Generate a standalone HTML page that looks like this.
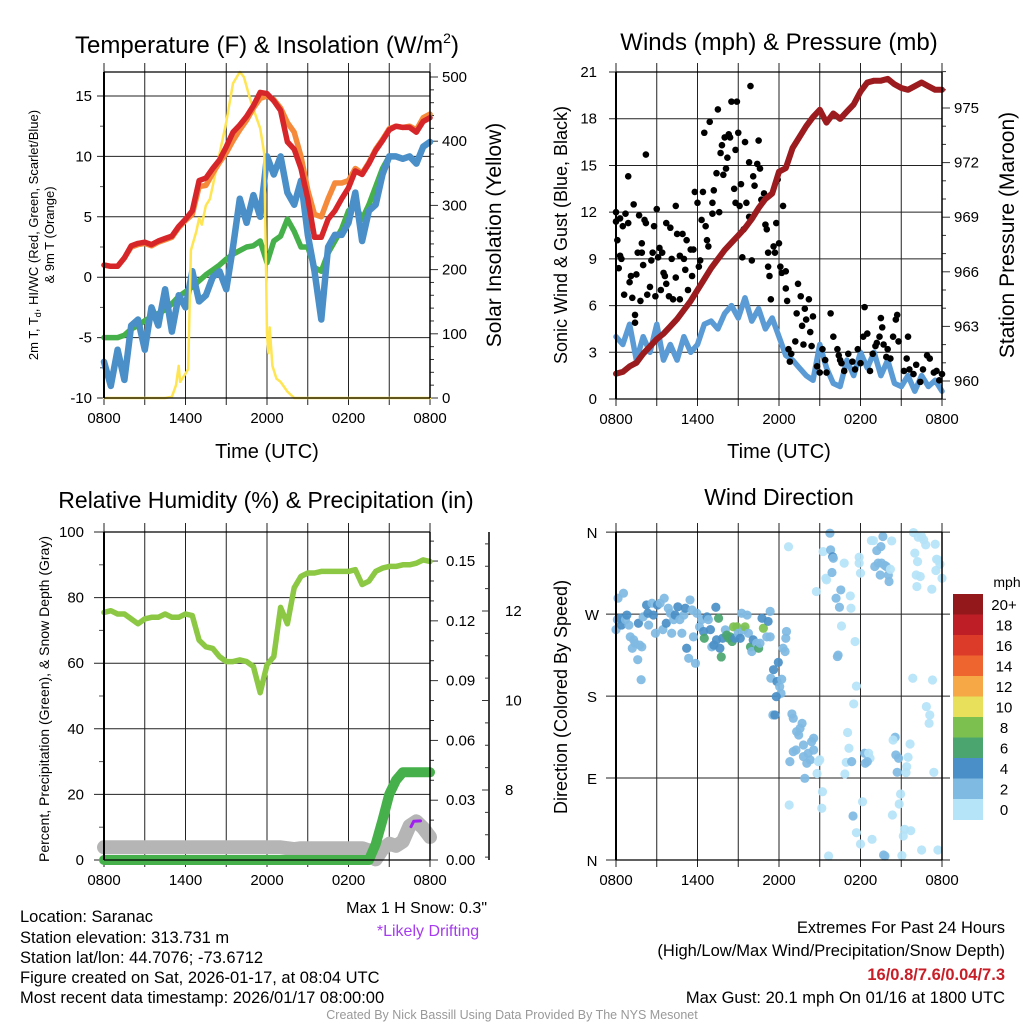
<!DOCTYPE html>
<html><head><meta charset="utf-8"><style>
html,body{margin:0;padding:0;background:#fff}
svg{display:block}
text{font-family:"Liberation Sans",sans-serif;fill:#000}
</style></head><body>
<svg id="chart" width="1024" height="1024" viewBox="0 0 1024 1024" xmlns="http://www.w3.org/2000/svg">
<text x="267" y="53" font-size="24" text-anchor="middle">Temperature (F) &amp; Insolation (W/m<tspan font-size="14" dy="-10">2</tspan><tspan dy="10">)</tspan></text>
<text x="779" y="50" font-size="24" text-anchor="middle">Winds (mph) &amp; Pressure (mb)</text>
<text x="266" y="508" font-size="23" text-anchor="middle">Relative Humidity (%) &amp; Precipitation (in)</text>
<text x="779" y="505" font-size="23" text-anchor="middle">Wind Direction</text>
<text x="267" y="458" font-size="20" text-anchor="middle">Time (UTC)</text>
<text x="779" y="458" font-size="20" text-anchor="middle">Time (UTC)</text>
<text transform="translate(38,235) rotate(-90)" font-size="13" text-anchor="middle">2m T, T<tspan font-size="9" dy="3">d</tspan><tspan dy="-3">, HI/WC (Red, Green, Scarlet/Blue)</tspan></text>
<text transform="translate(54,235) rotate(-90)" font-size="13" text-anchor="middle">&amp; 9m T (Orange)</text>
<text transform="translate(501,235) rotate(-90)" font-size="21" text-anchor="middle">Solar Insolation (Yellow)</text>
<text transform="translate(567,235) rotate(-90)" font-size="18" text-anchor="middle">Sonic Wind &amp; Gust (Blue, Black)</text>
<text transform="translate(1014,235) rotate(-90)" font-size="21" text-anchor="middle">Station Pressure (Maroon)</text>
<text transform="translate(49,699) rotate(-90)" font-size="14" text-anchor="middle">Percent, Precipitation (Green), &amp; Snow Depth (Gray)</text>
<text transform="translate(567,697) rotate(-90)" font-size="18" text-anchor="middle">Direction (Colored By Speed)</text>
<text x="487" y="913" font-size="16" text-anchor="end" fill="#333">Max 1 H Snow: 0.3"</text>
<text x="428" y="936" font-size="16" text-anchor="middle" style="fill:#a63bf0">*Likely Drifting</text>
<g font-size="16.5">
<text x="20" y="922">Location: Saranac</text>
<text x="20" y="943">Station elevation: 313.731 m</text>
<text x="20" y="963">Station lat/lon: 44.7076; -73.6712</text>
<text x="20" y="983">Figure created on Sat, 2026-01-17, at 08:04 UTC</text>
<text x="20" y="1003">Most recent data timestamp: 2026/01/17 08:00:00</text>
</g>
<g font-size="16.5" text-anchor="end">
<text x="1005" y="933">Extremes For Past 24 Hours</text>
<text x="1005" y="956">(High/Low/Max Wind/Precipitation/Snow Depth)</text>
<text x="1005" y="980" font-weight="bold" style="fill:#c81e28">16/0.8/7.6/0.04/7.3</text>
<text x="1005" y="1003">Max Gust: 20.1 mph On 01/16 at 1800 UTC</text>
</g>
<text x="512" y="1019" font-size="12.5" text-anchor="middle" style="fill:#999">Created By Nick Bassill Using Data Provided By The NYS Mesonet</text>
</svg>
<script>
// ---------- data ----------
const hours = [0,0.5,1,1.5,2,2.5,3,3.5,4,4.5,5,5.5,6,6.5,7,7.5,8,8.5,9,9.5,10,10.5,11,11.5,12,12.5,13,13.5,14,14.5,15,15.5,16,16.5,17,17.5,18,18.5,19,19.5,20,20.5,21,21.5,22,22.5,23,23.5,24];
const timeTickLabels = ["0800","1400","2000","0200","0800"];
const tempRed = [1.0,0.9,0.9,1.6,2.6,2.8,2.9,2.7,3.0,3.2,3.4,4.2,4.8,5.5,8.0,8.2,9.0,9.7,10.8,12.0,12.6,13.3,14.2,15.3,15.2,14.6,13.8,11.2,10.6,9.0,6.5,3.3,3.3,4.8,5.5,6.5,7.4,8.8,8.5,9.4,10.5,11.3,12.2,12.5,12.4,12.4,12.0,12.9,13.2];
const temp9m = [1.0,0.9,0.9,1.6,2.5,2.7,2.8,2.6,2.9,3.1,3.3,4.1,4.7,5.2,7.5,7.6,8.6,9.5,10.3,11.3,12.2,13.0,14.0,14.8,15.0,14.7,14.0,12.8,12.0,10.0,7.2,5.2,5.0,6.5,7.8,7.8,8.0,9.0,8.6,9.5,10.6,11.4,12.3,12.5,12.4,12.5,12.2,13.2,13.5];
const dewGreen = [-5,-5,-5,-4.8,-4.3,-4.0,-3.6,-3.3,-3.0,-2.7,-2.2,-1.6,-1.2,-0.8,-0.3,0.2,0.6,1.0,1.5,1.9,2.2,2.5,2.6,3.0,1.2,3.0,3.4,4.8,3.8,2.5,2.5,0.8,0.5,2.0,3.0,4.0,5.5,6.0,4.8,6.0,7.5,9.0,10.0,10.0,9.8,10.0,9.4,10.8,11.2];
const windChillBlue = [-7,-9,-6,-8.5,-4,-3.5,-6,-2.5,-4,-1,-4.5,-1.5,-2.5,0.5,-2,-1.5,0.0,0.5,-1,2.5,6.5,4.5,6.8,5.0,10.0,8.5,10.0,7.0,6.0,8.0,3.5,0.5,-3.5,2.5,3.5,3.5,4.5,7.0,3.0,5.5,6.0,8.5,10.0,10.0,9.8,10.0,9.4,10.8,11.2];
const solarHours = [0,4.5,5,5.3,5.5,5.6,6,6.2,6.4,6.8,7,7.2,7.5,7.8,8,8.5,9,9.5,10,10.3,10.7,11,11.5,11.8,12,12.1,12.2,12.4,12.7,13,13.5,14,24];
const solarValues = [0,0,2,20,50,25,38,45,230,260,280,270,300,310,330,380,430,490,515,500,470,450,420,380,100,70,110,50,30,25,10,0,0];
const pressure = [960.4,960.5,960.8,961.0,961.5,961.9,962.3,962.6,963.0,963.4,963.9,964.4,965.0,965.6,966.2,966.7,967.2,967.6,968.0,968.4,968.9,969.5,970.0,970.3,971.5,971.7,972.8,973.4,974.0,974.5,974.9,974.2,974.7,974.4,974.8,975.2,975.9,976.4,976.5,976.5,976.6,976.3,976.1,976.0,976.2,976.4,976.2,976.0,976.0];
const windSpeed = [4,3.5,4.8,2.5,4,3,4.8,2.5,3.5,2.5,4.0,3.0,3.5,4.8,5.0,4.5,5.5,6.0,5.2,6.5,5.0,5.8,4.5,5.2,4.0,2.8,2.5,2.0,1.5,1.2,3.5,2.0,1.0,0.8,2.5,1.5,3.0,2.0,3.0,1.5,2.5,1.0,0.8,1.5,0.5,1.5,0.8,1.2,0.5];
const gustHours = [0,0,0.1,0.2,0.3,0.3,0.4,0.5,0.6,0.7,0.9,0.9,1.0,1.1,1.2,1.3,1.4,1.4,1.5,1.6,1.7,1.8,1.9,1.9,2.0,2.1,2.2,2.2,2.3,2.5,2.6,2.7,2.8,2.9,3.0,3.1,3.2,3.3,3.4,3.5,3.6,3.7,3.7,3.9,4.0,4.1,4.2,4.4,4.4,4.5,4.7,4.7,4.9,5.0,5.1,5.2,5.3,5.5,5.6,5.7,5.8,6.0,6.1,6.2,6.3,6.4,6.5,6.6,6.7,6.8,6.9,7.1,7.1,7.2,7.4,7.5,7.6,7.7,7.8,7.9,8.0,8.1,8.2,8.3,8.4,8.5,8.7,8.8,8.8,8.9,9.0,9.1,9.2,9.3,9.4,9.5,9.6,9.8,9.8,9.9,10.0,10.1,10.2,10.4,10.5,10.6,10.7,10.9,11.0,11.1,11.2,11.2,11.3,11.4,11.6,11.7,11.8,11.9,12.0,12.1,12.2,12.3,12.5,12.5,12.6,12.7,12.8,12.9,13.2,13.3,13.4,13.6,13.7,13.8,13.9,14.0,14.2,14.3,14.4,14.5,14.8,15.0,15.2,15.4,15.5,15.8,16.0,16.3,16.4,16.5,16.6,16.8,17.1,17.4,17.6,17.8,18.0,18.2,18.3,18.5,18.7,18.9,19.1,19.2,19.4,19.5,19.6,19.7,19.9,20.0,20.2,20.4,20.6,20.7,20.8,21.2,21.4,21.5,21.6,21.9,22.1,22.4,22.6,22.9,23.1,23.4,23.6,23.8,24.0];
const gustValues = [12.0,11.4,10.2,8.4,9.2,11.6,9.0,11.1,6.7,11.9,11.3,14.3,7.5,7.9,6.5,12.5,4.9,5.4,8.0,9.4,11.8,6.3,10.0,9.4,8.6,11.5,15.7,11.3,6.7,7.2,8.9,9.4,11.1,6.6,12.2,9.1,9.7,7.0,9.4,8.1,7.9,11.3,7.4,6.6,11.0,9.0,6.4,7.8,12.4,10.6,9.2,6.4,10.6,9.0,8.3,10.2,7.0,9.6,7.9,9.6,13.3,12.6,8.5,8.9,11.5,13.3,17.1,11.1,10.2,9.8,17.8,12.6,11.9,13.4,14.5,18.6,12.0,15.8,16.3,14.4,16.8,14.8,15.5,17.0,16.8,19.1,13.5,12.6,16.0,19.1,17.1,12.4,13.8,9.1,10.9,16.5,12.6,11.7,15.2,20.1,8.9,14.3,13.7,15.1,16.6,14.8,12.8,13.2,11.2,10.9,8.5,9.4,7.9,6.4,9.8,9.4,11.3,14.1,10.0,8.5,8.1,12.4,8.2,7.1,6.3,3.2,2.4,2.9,3.7,5.5,7.4,6.6,4.7,3.5,5.8,5.1,6.4,4.3,3.4,5.3,2.1,1.7,3.2,2.5,1.7,5.5,4.0,3.2,2.8,2.5,2.3,1.8,2.9,2.4,1.9,3.2,2.3,4.0,5.9,4.2,1.8,2.9,3.4,3.6,4.0,5.2,4.6,3.5,2.7,3.2,2.6,4.0,5.1,5.4,3.7,1.8,2.6,4.0,1.9,1.6,2.2,1.1,1.9,2.8,2.6,1.7,1.8,1.2,1.6];
const rhValues = [75.5,76,75,75,73.5,72,73.5,74,74,75,74,74,75,74.5,67,65,64.5,62,60.5,60.5,61,60.5,59,51,59.5,62,77,72,83,86.5,87.5,87.5,88,88,88,88,88,88.5,84,85,88,89,89.5,89.5,90,90,90.5,91.5,91];
const precipValues = [0,0,0,0,0,0,0,0,0,0,0,0,0,0,0,0,0,0,0,0,0,0,0,0,0,0,0,0,0,0,0,0,0,0,0,0,0,0,0,0,0.008,0.02,0.033,0.040,0.044,0.044,0.044,0.044,0.044];
const snowDepth = [6.72,6.72,6.72,6.72,6.72,6.72,6.72,6.72,6.72,6.72,6.72,6.72,6.72,6.72,6.72,6.72,6.72,6.72,6.72,6.72,6.72,6.72,6.72,6.72,6.72,6.72,6.72,6.7,6.68,6.7,6.7,6.7,6.7,6.7,6.7,6.7,6.7,6.7,6.7,6.65,6.45,6.68,6.8,6.75,6.85,7.2,7.3,7.15,6.95];
const driftHours = [22.6,22.8,23.3];
const driftValues = [7.18,7.3,7.31];
const dirHours = [0,0.1,0.15,0.3,0.4,0.55,0.7,0.8,0.95,1.05,1.2,1.3,1.4,1.6,1.75,1.85,1.65,1.9,2.0,2.25,2.35,2.4,2.65,2.75,2.9,3.05,3.25,3.45,3.55,3.7,3.85,4.0,4.1,4.25,4.35,4.55,4.7,4.85,5.0,5.1,5.2,5.35,5.45,5.6,5.7,5.85,5.95,6.15,6.3,6.45,6.5,6.7,6.8,6.95,7.05,7.2,7.35,7.4,7.55,7.65,7.75,7.85,8.05,8.15,8.3,8.4,8.55,8.65,8.75,8.9,9.0,9.15,9.25,9.4,9.5,9.65,9.75,9.9,10.0,10.1,10.35,10.5,10.6,10.75,10.85,11.1,11.2,11.35,11.35,12.55,12.5,12.3,12.45,11.95,11.6,11.4,11.85,12.2,12.05,12.15,11.8,11.55,11.7,12.95,13.05,13.7,13.55,13.45,13.3,14.55,14.4,13.8,13.25,13.05,14.15,13.8,14.05,14.3,14.55,12.8,14.9,15.0,14.8,13.9,12.7,12.75,15.2,15.15,15.65,15.25,15.45,15.5,15.75,15.8,15.95,16.0,15.9,14.75,16.55,16.2,16.45,17.25,17.3,16.8,16.6,16.35,16.3,17.6,17.7,17.5,17.05,17.15,16.95,17.35,16.85,18.15,17.45,17.7,18.0,18.85,17.9,17.9,18.0,18.3,18.6,18.7,18.35,18.5,18.8,18.95,19.2,19.5,19.65,20.3,19.05,19.3,19.45,19.55,19.8,19.9,20.05,20.1,20.2,20.55,20.4,20.6,20.8,20.7,20.95,20.85,20.35,21.25,21.15,21.7,21.05,19.7,19.8,21.4,21.5,21.35,21.65,23.4,22.85,23.1,23.05,21.85,23.3,21.9,22.25,22.5,22.65,22.8,23.5,22.0,22.2,22.1,22.4,22.15,23.25,23.6,23.7,23.85,24.0,23.55,22.5,23.7,23.85];
const dirDegrees = [253,264,287.5,265.5,258,293,264,269,258,245,232.5,241.7,238,220,236,198,260,234,267,280,271,258,282,269,249,280,282,253,287.5,260,276.5,271,249,264,269,278,264,249,269,276.5,232.5,221.5,285.6,274.6,245,216,271,256,264,251,243.5,267,264,253,234,236,277.6,241.7,265.5,232.5,223,243.5,252.7,247,243.5,245,240,256,243.5,256,249,243.5,271,252.7,256,269,249,234,229,241.7,238,232.5,238,265.5,254.5,245,262,273,245,251,243.5,232.5,229,217,209,199.6,196,198.5,190.4,183,179.4,159.3,159.3,160.4,155.6,150,144.6,137.3,141,133.7,130,126.3,120.8,119,117.2,113.5,106.2,109.9,120.8,108,108,110,95,89.7,344,60.4,75,56.8,4.4,338.7,309.4,307.6,358.9,340.6,333,331.4,315.7,294.8,296.6,287.5,277.6,290,276.5,326,257,225,223.4,239.9,191,171.4,140,122.7,107.3,108,94.5,64,48.3,30,17.6,22.7,332.5,326,315,117.2,117.2,111.7,106.2,108,350.8,350.8,339.8,344.2,355.2,350.4,322.3,326,313,326,323.4,322.3,313,305.8,319.3,134.8,131.8,115.4,111.7,96.3,72.5,61.5,49.4,33.7,26.4,32.2,4.8,5.5,4.4,102.5,112.8,96,127.4,96.3,168.5,159.3,150.1,199.6,197.7,359.6,354.5,355.2,351.6,346,346.8,337,327.7,313,311.3,300.3,297.4,330.3,329.6,324.8,309.4,317.9,11,11,20.1];
const dirSpeedClass = [3,3,2,4,4,2,3,4,3,2,2,2,2,2,2,2,4,2,3,4,4,2,3,4,2,4,3,2,2,4,2,3,2,2,4,4,3,2,3,4,4,3,2,2,2,2,2,3,3,4,6,4,3,4,3,4,4,5,6,4,6,5,3,6,6,6,6,7,4,7,3,4,2,3,7,3,3,6,3,4,3,6,3,4,7,3,4,2,3,2,2,3,2,4,4,3,4,2,2,2,4,3,4,3,2,3,2,3,2,3,3,3,3,2,3,2,3,3,3,3,1,1,1,3,1,1,1,1,1,1,1,1,2,3,4,3,3,1,3,2,3,1,1,1,1,2,2,1,1,1,1,1,1,3,1,1,3,1,1,1,1,1,1,3,1,1,3,2,1,1,2,2,2,1,2,2,3,2,2,2,3,3,1,3,1,3,3,3,1,1,1,1,1,1,1,3,3,1,1,1,1,1,1,1,1,1,1,1,1,1,1,1,1,1,1,1,1,1,1,1,1,1,1,1,1,1];
const speedClassMph = [0,1.2,3.0,3.6,4.5,5.2,6.8,8.4];
const colorbarLabels = ["20+","18","16","14","12","10","8","6","4","2","0"];
const colorbarColors = ["#92181c","#be1e26","#dd3b2a","#ef6530","#f5a845","#e8e05a","#7cc14f","#4aa56f","#4a8fc7","#7fbae3","#b5e3f7"];

// ---------- helpers ----------
const svg = document.getElementById('chart');
const NS = 'http://www.w3.org/2000/svg';
function mk(tag, attrs, name, parent) {
  const el = document.createElementNS(NS, tag);
  for (const k in attrs) el.setAttribute(k, attrs[k]);
  
  
  (parent || svg).appendChild(el);
  return el;
}
function txt(x, y, s, size, anchor, name) {
  const t = mk('text', {x: x, y: y, 'font-size': size, 'text-anchor': anchor}, name);
  t.textContent = s;
  return t;
}
function xScale(x0) { return h => x0 + h * 326 / 24; }
function poly(hs, vs, xs, ys, attrs, name) {
  const p = hs.map((h, i) => xs(h).toFixed(1) + ',' + ys(vs[i]).toFixed(1)).join(' ');
  const a = Object.assign({points: p, fill: 'none', 'stroke-linejoin': 'round', 'stroke-linecap': 'round'}, attrs);
  return mk('polyline', a, name);
}
function timeAxis(x0, top, bot, prefix, withLabels) {
  const xs = xScale(x0);
  for (let h = 0; h <= 24; h += 3) {
    mk('line', {x1: xs(h), x2: xs(h), y1: top - 9, y2: bot + 7, stroke: '#222', 'stroke-width': 1}, prefix + '-x-grid');
  }
  if (withLabels) timeTickLabels.forEach((s, i) => txt(xs(i * 6), bot + 25, s, 15, 'middle', prefix + '-x-tick-label'));
}
function frame(x0, top, bot, prefix) {
  mk('line', {x1: x0, x2: x0, y1: top, y2: bot, stroke: '#000', 'stroke-width': 2}, prefix + '-left-axis');
  mk('line', {x1: x0 + 326, x2: x0 + 326, y1: top, y2: bot, stroke: '#000', 'stroke-width': 1.5}, prefix + '-right-axis');
  mk('line', {x1: x0, x2: x0 + 326, y1: top, y2: top, stroke: '#000', 'stroke-width': 1.2}, prefix + '-top-axis');
  mk('line', {x1: x0, x2: x0 + 326, y1: bot, y2: bot, stroke: '#000', 'stroke-width': 1.2}, prefix + '-bottom-axis');
}

// ---------- Panel 1: temperature ----------
const x1s = xScale(104);
const tY = v => 398 - (v + 10) * 12.08;
const sY = v => 398 - v * 0.642;
timeAxis(104, 72, 398, 'temp', true);
for (let v = -10; v <= 15; v += 5) {
  mk('line', {x1: 97, x2: 430, y1: tY(v), y2: tY(v), stroke: '#222', 'stroke-width': 1}, 'temp-y-grid');
  txt(92, tY(v) + 5, String(v), 15, 'end', 'temp-y-tick-label');
}
for (let v = -7.5; v <= 17; v += 5) mk('line', {x1: 100, x2: 104, y1: tY(v), y2: tY(v), stroke: '#555'}, 'temp-y-minor-tick');
for (let v = 0; v <= 500; v += 20) {
  const maj = v % 100 === 0;
  mk('line', {x1: 430, x2: maj ? 438 : 434, y1: sY(v), y2: sY(v), stroke: '#333'}, 'solar-y-tick');
  if (maj) txt(442, sY(v) + 5, String(v), 15, 'start', 'solar-y-tick-label');
}
poly(hours, dewGreen, x1s, tY, {stroke: '#46b04a', 'stroke-width': 5.5}, 'dewpoint-line');
poly(hours, windChillBlue, x1s, tY, {stroke: '#4a8fc8', 'stroke-width': 6.5}, 'wind-chill-line');
poly(solarHours, solarValues.map(v => Math.min(v, 508)), x1s, sY, {stroke: '#ffe552', 'stroke-width': 2.5}, 'solar-line');
poly(hours, temp9m, x1s, tY, {stroke: '#f58a3b', 'stroke-width': 5.5}, 'temp-9m-line');
poly(hours, tempRed, x1s, tY, {stroke: '#d7262a', 'stroke-width': 5.5}, 'temp-2m-line');
frame(104, 72, 398, 'temp');

// ---------- Panel 2: winds ----------
const x2s = xScale(616);
const wY = v => 399 - v * 15.57;
const pY = p => 381 - (p - 960) * 18.2;
timeAxis(616, 72, 399, 'wind', true);
for (let v = 0; v <= 21; v += 3) {
  mk('line', {x1: 609, x2: 942, y1: wY(v), y2: wY(v), stroke: '#222', 'stroke-width': 1}, 'wind-y-grid');
  txt(597, wY(v) + 5, String(v), 15, 'end', 'wind-y-tick-label');
}
for (let p = 959; p <= 977; p += 1) {
  const maj = (p - 960) % 3 === 0;
  mk('line', {x1: 942, x2: maj ? 950 : 946, y1: pY(p), y2: pY(p), stroke: '#333'}, 'pressure-y-tick');
  if (maj) txt(954, pY(p) + 5, String(p), 15, 'start', 'pressure-y-tick-label');
}
poly(hours, windSpeed, x2s, wY, {stroke: '#5b9bd5', 'stroke-width': 5.5}, 'sonic-wind-line');
gustHours.forEach((h, i) => {
  mk('circle', {cx: x2s(h), cy: wY(gustValues[i]), r: 3.3, fill: '#000'}, 'gust-point');
});
poly(hours, pressure, x2s, pY, {stroke: '#9b1b1e', 'stroke-width': 6}, 'pressure-line');
frame(616, 72, 399, 'wind');

// ---------- Panel 3: humidity ----------
const x3s = xScale(104);
const rY = v => 860 - v * 3.28;
const prY = p => 860 - p * 1993;
const snY = s => 790 - (s - 8) * 44.75;
timeAxis(104, 532, 860, 'rh', true);
for (let v = 0; v <= 100; v += 20) {
  mk('line', {x1: 94, x2: 430, y1: rY(v), y2: rY(v), stroke: '#222', 'stroke-width': 1}, 'rh-y-grid');
  txt(84, rY(v) + 5, String(v), 15, 'end', 'rh-y-tick-label');
}
for (let v = 10; v <= 90; v += 20) mk('line', {x1: 99, x2: 104, y1: rY(v), y2: rY(v), stroke: '#555'}, 'rh-y-minor-tick');
for (let k = 0; k <= 16; k++) {
  const p = k / 100;
  const maj = k % 3 === 0;
  mk('line', {x1: 430, x2: maj ? 438 : 434, y1: prY(p), y2: prY(p), stroke: '#333'}, 'precip-y-tick');
  if (maj) txt(446, prY(p) + 5, p.toFixed(2), 15, 'start', 'precip-y-tick-label');
}
mk('line', {x1: 489, x2: 489, y1: 532, y2: 860, stroke: '#000', 'stroke-width': 1.5}, 'snow-axis');
for (let s = 6.5; s <= 13.5; s += 0.5) {
  const y = snY(s);
  if (y < 532 || y > 860) continue;
  const maj = s % 2 === 0;
  mk('line', {x1: maj ? 482 : 485, x2: 489, y1: y, y2: y, stroke: '#333'}, 'snow-y-tick');
  if (maj) txt(505, y + 5, String(s), 15, 'start', 'snow-y-tick-label');
}
poly(hours, snowDepth, x3s, snY, {stroke: '#b5b5b5', 'stroke-width': 14}, 'snow-depth-line');
poly(hours, precipValues, x3s, prY, {stroke: '#46b04a', 'stroke-width': 10}, 'precip-line');
poly(hours, rhValues, x3s, rY, {stroke: '#8cc843', 'stroke-width': 5.5}, 'humidity-line');
poly(driftHours, driftValues, x3s, snY, {stroke: '#a020f0', 'stroke-width': 3}, 'drift-line');
frame(104, 532, 860, 'rh');

// ---------- Panel 4: direction ----------
const x4s = xScale(616);
const dY = d => 860 - d * 0.9106;
timeAxis(616, 532, 860, 'dir', true);
const dirLabels = ["N","E","S","W","N"];
dirLabels.forEach((s, i) => {
  mk('line', {x1: 606, x2: 950, y1: dY(i * 90), y2: dY(i * 90), stroke: '#222', 'stroke-width': 1}, 'dir-y-grid');
  txt(592, dY(i * 90) + 6, s, 15, 'middle', 'dir-y-tick-label');
});
function speedColor(v) {
  const idx = Math.min(10, Math.floor(v / 2));
  return colorbarColors[10 - idx];
}
dirHours.forEach((h, i) => {
  if (dirDegrees[i] === undefined || dirSpeedClass[i] === undefined) return;
  const spd = speedClassMph[dirSpeedClass[i]];
  mk('circle', {cx: x4s(h), cy: dY(dirDegrees[i]), r: 4.6, fill: speedColor(spd), 'fill-opacity': 0.92}, 'direction-point');
});
frame(616, 532, 860, 'dir');
// colorbar
txt(1007, 587, 'mph', 14, 'middle', 'colorbar-title');
colorbarLabels.forEach((s, i) => {
  const y = 594 + i * 20.5;
  mk('rect', {x: 953, y: y, width: 30, height: 21, fill: colorbarColors[i]}, 'colorbar-band');
  txt(1004, y + 16, s, 15, 'middle', 'colorbar-label');
});
</script>
</body></html>
